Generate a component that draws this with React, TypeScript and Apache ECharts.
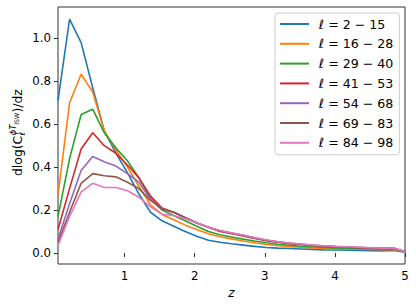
import React, { useEffect, useRef } from "react";
import * as echarts from "echarts";

const Z = [0.05, 0.215, 0.38, 0.545, 0.71, 0.875, 1.04, 1.205, 1.37, 1.535, 1.7, 1.865, 2.03, 2.195, 2.36, 2.525, 2.69, 2.855, 3.02, 3.185, 3.35, 3.515, 3.68, 3.845, 4.01, 4.175, 4.34, 4.505, 4.67, 4.835, 5.0];

const NAMES = ["ℓ = 2 − 15", "ℓ = 16 − 28", "ℓ = 29 − 40", "ℓ = 41 − 53", "ℓ = 54 − 68", "ℓ = 69 − 83", "ℓ = 84 − 98"];
const COLORS = ["#1f77b4", "#ff7f0e", "#2ca02c", "#d62728", "#9467bd", "#8c564b", "#e377c2"];

const S1 = [0.71, 1.09, 0.98, 0.77, 0.57, 0.465, 0.375, 0.275, 0.19, 0.15, 0.125, 0.10, 0.078, 0.06, 0.05, 0.043, 0.037, 0.031, 0.026, 0.023, 0.021, 0.019, 0.017, 0.015, 0.014, 0.013, 0.012, 0.011, 0.010, 0.012, 0.004];
const S2 = [0.27, 0.70, 0.833, 0.75, 0.57, 0.48, 0.40, 0.31, 0.225, 0.18, 0.155, 0.13, 0.11, 0.09, 0.076, 0.066, 0.056, 0.048, 0.04, 0.034, 0.03, 0.027, 0.024, 0.022, 0.02, 0.019, 0.018, 0.017, 0.016, 0.017, 0.006];
const S3 = [0.17, 0.44, 0.645, 0.67, 0.56, 0.49, 0.43, 0.35, 0.255, 0.20, 0.175, 0.15, 0.125, 0.10, 0.085, 0.075, 0.065, 0.056, 0.048, 0.041, 0.036, 0.032, 0.029, 0.026, 0.024, 0.022, 0.021, 0.02, 0.019, 0.02, 0.007];
const S4 = [0.11, 0.30, 0.485, 0.56, 0.50, 0.465, 0.41, 0.35, 0.265, 0.21, 0.19, 0.165, 0.14, 0.12, 0.10, 0.09, 0.08, 0.068, 0.058, 0.05, 0.044, 0.04, 0.035, 0.032, 0.029, 0.027, 0.025, 0.023, 0.021, 0.022, 0.006];
const S5 = [0.065, 0.23, 0.385, 0.45, 0.425, 0.405, 0.37, 0.33, 0.25, 0.205, 0.19, 0.165, 0.14, 0.12, 0.104, 0.092, 0.082, 0.07, 0.06, 0.052, 0.046, 0.041, 0.036, 0.033, 0.03, 0.028, 0.026, 0.024, 0.022, 0.023, 0.006];
const S6 = [0.05, 0.19, 0.325, 0.37, 0.36, 0.355, 0.33, 0.30, 0.245, 0.205, 0.19, 0.165, 0.14, 0.12, 0.104, 0.093, 0.083, 0.07, 0.06, 0.052, 0.046, 0.041, 0.036, 0.033, 0.03, 0.028, 0.026, 0.024, 0.022, 0.023, 0.006];
const S7 = [0.035, 0.17, 0.285, 0.325, 0.305, 0.305, 0.29, 0.26, 0.215, 0.18, 0.175, 0.16, 0.14, 0.12, 0.105, 0.094, 0.084, 0.072, 0.062, 0.053, 0.047, 0.042, 0.037, 0.034, 0.031, 0.029, 0.027, 0.025, 0.023, 0.024, 0.005];
const SERIES = [S1, S2, S3, S4, S5, S6, S7];

const X_TICKS = [1, 2, 3, 4, 5];
const Y_TICKS = [0, 0.2, 0.4, 0.6, 0.8, 1.0];

const FONT = "DejaVu Sans";

export default function App() {
  const ref = useRef<HTMLDivElement>(null);
  useEffect(() => {
    if (!ref.current) return;
    const chart = echarts.init(ref.current, null, { renderer: "svg" });
    const axisCommon = {
      splitLine: { show: false },
      axisLine: { show: false },
    };
    chart.setOption({
      animation: false,
      backgroundColor: "#ffffff",
      grid: {
        left: 58,
        right: 11,
        top: 7,
        bottom: 44,
        show: true,
        borderColor: "#333333",
        borderWidth: 1,
        backgroundColor: "transparent",
      },
      xAxis: {
        type: "value",
        min: 0.05,
        max: 5,
        ...axisCommon,
        axisTick: { show: true, length: 4, lineStyle: { color: "#333" }, customValues: X_TICKS },
        axisLabel: {
          show: true,
          margin: 6,
          fontFamily: FONT,
          fontSize: 11.8,
          color: "#000",
          customValues: X_TICKS,
          formatter: (v: number) => String(Math.round(v)),
        },
      },
      yAxis: {
        type: "value",
        min: -0.051,
        max: 1.146,
        ...axisCommon,
        axisTick: { show: true, length: 4, lineStyle: { color: "#333" }, customValues: Y_TICKS },
        axisLabel: {
          show: true,
          margin: 7,
          fontFamily: FONT,
          fontSize: 11.8,
          color: "#000",
          customValues: Y_TICKS,
          formatter: (v: number) => v.toFixed(1),
        },
      },
      legend: {
        left: 275,
        top: 13,
        orient: "vertical",
        icon: "rect",
        itemWidth: 29,
        itemHeight: 2,
        itemGap: 5.8,
        padding: [4, 6, 5, 5],
        backgroundColor: "rgba(255,255,255,0.8)",
        borderColor: "#cccccc",
        borderWidth: 1,
        borderRadius: 3,
        textStyle: { fontFamily: FONT, fontSize: 12.6, color: "#000", lineHeight: 14, padding: [0, 0, 0, 5] },
        data: NAMES,
      },
      graphic: [
        {
          type: "text",
          x: 231.5,
          y: 293,
          style: { text: "z", font: `italic 12px '${FONT}'`, fill: "#000", align: "center", verticalAlign: "middle" },
        },
        {
          type: "group",
          x: 21,
          y: 131,
          rotation: Math.PI / 2,
          children: [
            { type: "text", x: -45, y: -3.8, style: { text: "dlog(C", font: `12.4px '${FONT}'`, fill: "#000", align: "left", verticalAlign: "middle" } },
            { type: "text", x: -4.5, y: -8, style: { text: "ϕT", font: `italic 8.6px '${FONT}'`, fill: "#000", align: "left", verticalAlign: "middle" } },
            { type: "text", x: -4.5, y: 1, style: { text: "ℓ", font: `italic 8.6px '${FONT}'`, fill: "#000", align: "left", verticalAlign: "middle" } },
            { type: "text", x: 6.2, y: -4.8, style: { text: "ISW", font: `6.2px '${FONT}'`, fill: "#000", align: "left", verticalAlign: "middle" } },
            { type: "text", x: 18.5, y: -3.8, style: { text: ")/dz", font: `12.4px '${FONT}'`, fill: "#000", align: "left", verticalAlign: "middle" } },
          ],
        },
      ],
      series: SERIES.map((s, k) => ({
        name: NAMES[k],
        type: "line",
        data: s.map((v, i) => [Z[i], v]),
        showSymbol: false,
        symbol: "none",
        color: COLORS[k],
        lineStyle: { width: 1.6, color: COLORS[k] },
        clip: true,
        z: 2 + k,
      })),
    });
    return () => chart.dispose();
  }, []);
  return <div ref={ref} style={{ width: 416, height: 308, position: "absolute", left: 0, top: 0 }} />;
}
